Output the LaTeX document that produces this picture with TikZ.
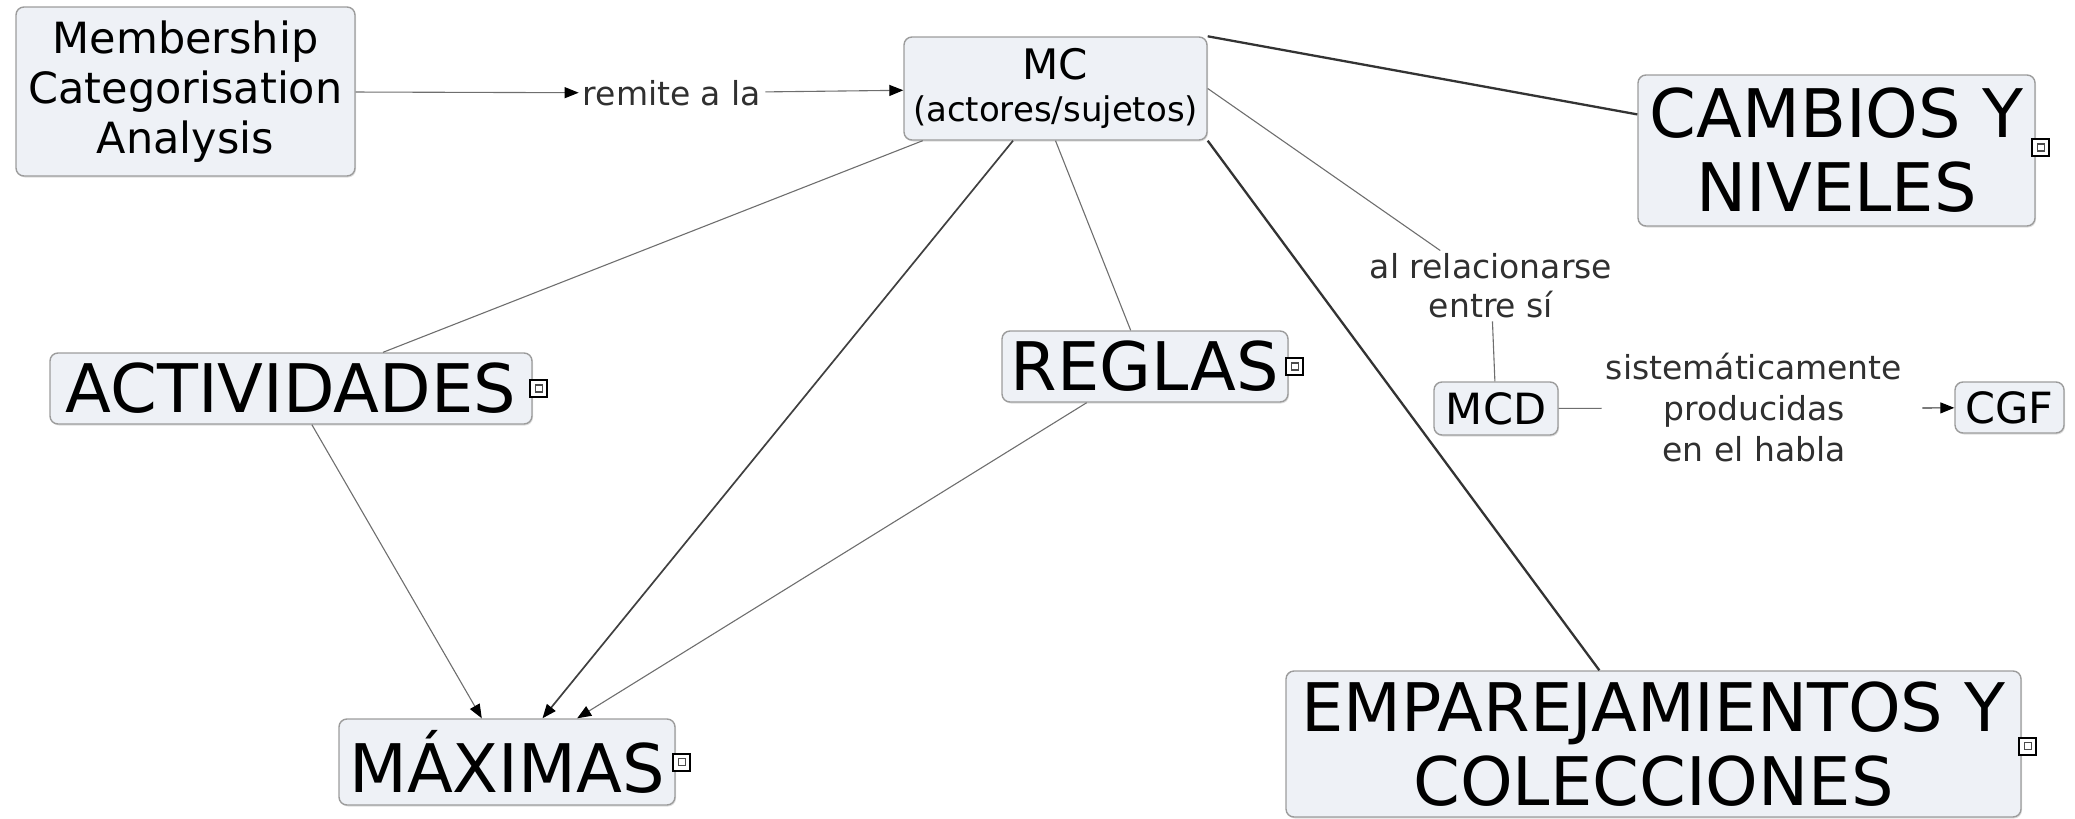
\documentclass[tikz,border=0pt]{standalone}
\usepackage{fontspec}
\setmainfont{DejaVu Sans}
\usetikzlibrary{arrows.meta,shadows}
\definecolor{boxfill}{HTML}{EEF1F6}
\definecolor{boxline}{HTML}{9C9C9C}
\definecolor{linkgray}{HTML}{6E6E6E}
\definecolor{labtext}{HTML}{303030}
\tikzset{
  concept/.style={draw=boxline, line width=1.4pt, fill=boxfill, rounded corners=8pt,
    inner sep=0pt, align=center, text=black,
    drop shadow={shadow xshift=1pt, shadow yshift=-1.5pt, opacity=0.25}},
  bigtxt/.style={font=\fontsize{67}{74}\selectfont},
  midtxt/.style={font=\fontsize{43}{50}\selectfont},
  linklabel/.style={inner xsep=4pt, inner ysep=3pt, align=center, text=labtext,
    font=\fontsize{33}{39}\selectfont},
  icon/.style={draw=black, line width=2pt, fill=white, minimum size=17pt, inner sep=0pt,
    path picture={\draw[black!70, line width=1.2pt] ([shift={(-3.5pt,-3.5pt)}]path picture bounding box.center) rectangle ++(7pt,7pt);}},
  thin/.style={draw=linkgray, line width=1.1pt},
  mid/.style={draw=black!75, line width=1.7pt},
  thick/.style={draw=black!80, line width=2.3pt},
  tip/.style={-{Triangle[length=14pt,width=11pt,fill=black,color=black]}}
}
\begin{document}
\begin{tikzpicture}[x=1pt,y=-1pt]
\useasboundingbox (0,0) rectangle (2075,819);

% concepts
\node[concept, midtxt, minimum width=339pt, minimum height=169pt] (mca) at (185.5,91.5)
  {Membership\\Categorisation\\Analysis};
\node[concept, minimum width=303pt, minimum height=103pt] (mc) at (1055.5,88.5)
  {{\fontsize{42}{48}\selectfont MC}\\[14pt]{\fontsize{34}{40}\selectfont (actores/sujetos)}};
\node[concept, bigtxt, minimum width=397pt, minimum height=151pt] (cam) at (1836.5,150.5)
  {CAMBIOS Y\\NIVELES};
\node[concept, bigtxt, minimum width=482pt, minimum height=71pt] (act) at (291,388.5)
  {ACTIVIDADES};
\node[concept, bigtxt, minimum width=286pt, minimum height=71pt] (reg) at (1145,366.5)
  {REGLAS};
\node[concept, bigtxt, minimum width=336pt, minimum height=86pt] (max) at (507,762)
  {MÁXIMAS};
\node[concept, midtxt, minimum width=124pt, minimum height=53pt] (mcd) at (1496,408.5)
  {MCD};
\node[concept, midtxt, minimum width=109pt, minimum height=51pt] (cgf) at (2009.5,407.5)
  {CGF};
\node[concept, bigtxt, minimum width=735pt, minimum height=146pt] (emp) at (1653.5,744)
  {EMPAREJAMIENTOS Y\\COLECCIONES};

% icons
\node[icon] (iact) at ([xshift=6pt]act.east) {};
\node[icon] (ireg) at ([xshift=6pt]reg.east) {};
\node[icon] (imax) at ([xshift=6pt]max.east) {};
\node[icon] (icam) at ([xshift=5pt,yshift=3pt]cam.east) {};
\node[icon] (iemp) at ([xshift=6pt,yshift=-2pt]emp.east) {};

% link labels
\node[linklabel] (lab1) at (672,93) {remite a la};
\node[linklabel] (lab2) at (1491,286) {al relacionarse\\entre sí};
\node[linklabel, font=\fontsize{33}{41}\selectfont] (lab3) at (1754,408)
  {sistemáticamente\\producidas\\en el habla};
\coordinate (lab3out) at ([xshift=16pt]lab3.east);

% connectors
\draw[thin, tip] (mca) -- (lab1);
\draw[thin, tip] (lab1) -- (mc);
\draw[thick] (mc.north east) -- (cam);
\draw[thin] (mc.east) -- (lab2);
\draw[thin] (lab2) -- (mcd);
\draw[thin] (mcd) -- (lab3);
\draw[thin, tip, draw=black!80] (lab3out) -- (cgf);
\draw[thin] (mc) -- (act);
\draw[mid, tip] (mc) -- (max);
\draw[thin] (mc.south) -- (reg);
\draw[thick] (mc.south east) -- (emp);
\draw[thin, tip] (act) -- (max);
\draw[thin, tip] (reg) -- (max);
\end{tikzpicture}
\end{document}
